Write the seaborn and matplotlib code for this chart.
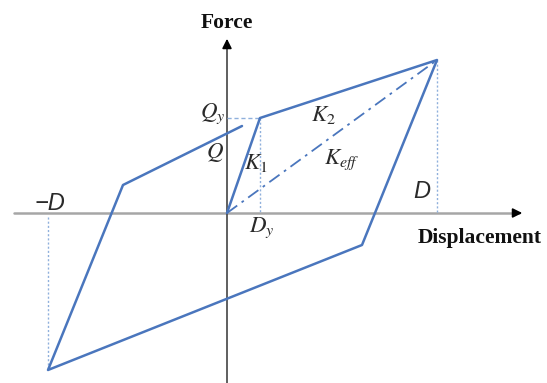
import matplotlib
matplotlib.use("Agg")
import matplotlib.pyplot as plt
import seaborn as sns
import pandas as pd

# hysteresis loop corner points (displacement, force)
loop_x = [0, 33, 210, 135, -179, -104, 15]
loop_y = [0, 95, 153, -32, -157, 28, 87]

# reference quantities
Dy, Qy = 33, 95
D, Fmax = 210, 153
Dneg, Fneg = -179, -157

sns.set_style("white")
plt.rcParams["mathtext.fontset"] = "stix"
fig = plt.figure(figsize=(5.47, 3.83), dpi=100)
ax = fig.add_axes([0, 0, 1, 1])
ax.set_xlim(-227, 320)
ax.set_ylim(-170, 213)
ax.axis("off")

blue = "#4a76bd"
light = "#8fb0dc"
ink = "#2a2a2a"

# axes with arrows
ax.plot([-213, 292], [0, 0], color="#a6a6a6", lw=1.8, zorder=1)
ax.annotate("", xy=(298, 0), xytext=(285, 0),
            arrowprops=dict(arrowstyle="-|>", color="black", lw=1.2, mutation_scale=14))
ax.plot([0, 0], [-170, 170], color="#444444", lw=1.2, zorder=1)
ax.annotate("", xy=(0, 177), xytext=(0, 164),
            arrowprops=dict(arrowstyle="-|>", color="black", lw=1.2, mutation_scale=14))

# loop
df = pd.DataFrame({"disp": loop_x, "force": loop_y})
sns.lineplot(data=df, x="disp", y="force", sort=False, estimator=None,
             color=blue, lw=1.8, ax=ax, zorder=3)

# effective stiffness
ax.plot([0, D], [0, Fmax], color=blue, lw=1.3, ls=(0, (7, 3, 1.5, 3)), zorder=2)
# guide lines
ax.plot([0, Dy], [Qy, Qy], color=light, lw=1.0, ls=(0, (3, 2)), zorder=2)
ax.plot([Dy, Dy], [Qy, 0], color=light, lw=1.0, ls=(0, (1.5, 1.5)), zorder=2)
ax.plot([D, D], [Fmax, 0], color=light, lw=1.0, ls=(0, (1.5, 1.5)), zorder=2)
ax.plot([Dneg, Dneg], [-4, Fneg], color=light, lw=1.0, ls=(0, (1.5, 1.5)), zorder=2)

# labels
ax.text(0, 190, "Force", family="Liberation Serif", weight="bold", fontsize=15.5,
        ha="center", va="center", color="#111111")
ax.text(253, -25, "Displacement", family="Liberation Serif", weight="bold", fontsize=15.5,
        ha="center", va="center", color="#111111")
fs = 16.5
ax.text(-14, 99, "$Q_y$", fontsize=fs, ha="center", va="center", color=ink)
ax.text(-12, 61, "$Q$", fontsize=fs, ha="center", va="center", color=ink)
ax.text(29, 50, "$K_1$", fontsize=fs, ha="center", va="center", color=ink)
ax.text(96, 99, "$K_2$", fontsize=fs, ha="center", va="center", color=ink)
ax.text(115, 53, "$K_{eff}$", fontsize=fs, ha="center", va="center", color=ink)
ax.text(195, 21, "D", family="Liberation Sans", style="italic", fontsize=17,
        ha="center", va="center", color=ink)
ax.text(-177, 10, "\u2212D", family="Liberation Sans", style="italic", fontsize=17,
        ha="center", va="center", color=ink)
ax.text(35, -15, "$D_y$", fontsize=fs, ha="center", va="center", color=ink)

fig.savefig("out.png", dpi=100)
